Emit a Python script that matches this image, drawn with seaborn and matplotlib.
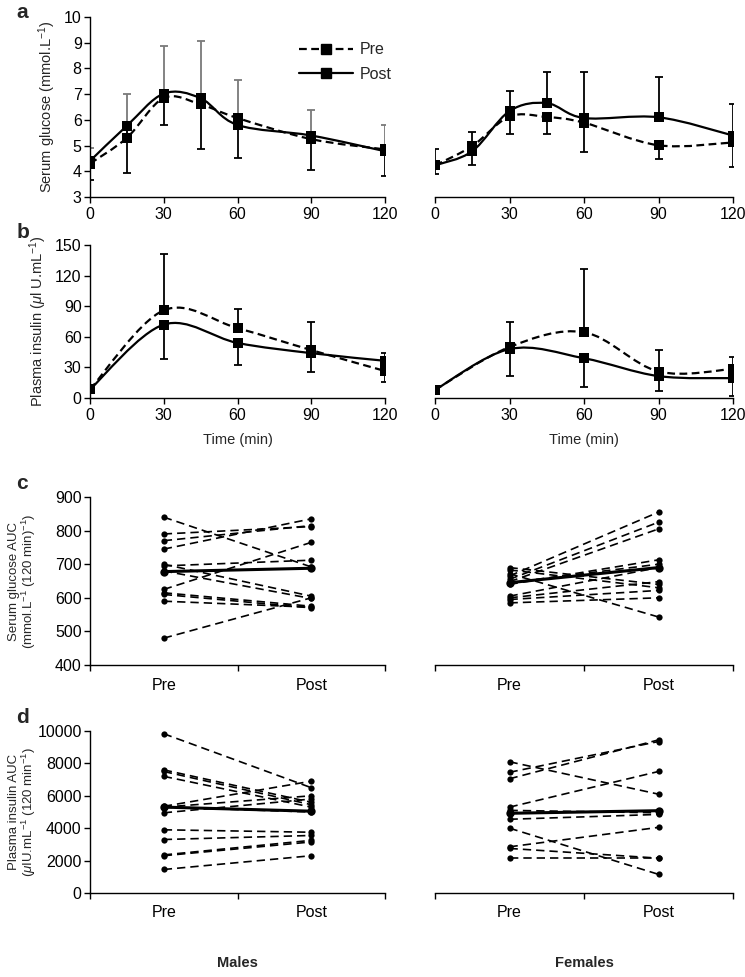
import matplotlib
matplotlib.use("Agg")
import matplotlib.pyplot as plt
import pandas as pd
import seaborn as sns
from matplotlib.path import Path
from matplotlib.patches import PathPatch
from matplotlib.lines import Line2D

# ---- panel a: serum glucose during the OGTT (mmol/L) ----
glu_time = [0, 15, 30, 45, 60, 90, 120]
glu_m_pre = [4.3, 5.3, 6.85, 6.6, 6.07, 5.25, 4.85]
glu_m_post = [4.4, 5.77, 7.02, 6.84, 5.8, 5.39, 4.78]
glu_m_pre_sd = [0.6, 1.7, 2.04, 2.45, 1.48, 1.14, 0.93]     # drawn upward
glu_m_post_sd = [0.74, 1.82, 1.22, 1.96, 1.3, 1.36, 0.95]   # drawn downward
glu_f_pre = [4.23, 4.98, 6.13, 6.11, 5.89, 5.01, 5.12]
glu_f_post = [4.23, 4.78, 6.34, 6.65, 6.07, 6.1, 5.39]
glu_f_pre_sd = [0.33, 0.72, 0.68, 0.66, 1.14, 0.53, 0.95]   # drawn downward
glu_f_post_sd = [0.64, 0.73, 0.8, 1.22, 1.8, 1.55, 1.21]    # drawn upward

# ---- panel b: plasma insulin (uU/mL) ----
ins_time = [0, 30, 60, 90, 120]
ins_m_pre = [8.5, 86, 68.5, 47, 26.5]
ins_m_post = [8.5, 72, 54, 44, 36.5]
ins_m_pre_sd = [1, 55, 18.5, 28, 18]
ins_m_post_sd = [1, 33.3, 21.7, 18, 21.1]
ins_f_pre = [8, 50, 64.5, 26, 28.5]
ins_f_post = [8, 48, 39, 21.5, 19.5]
ins_f_pre_sd = [1, 25, 62, 21, 11.5]
ins_f_post_sd = [1, 26, 28, 15, 18]

# ---- panel c: individual serum glucose AUC ----
gauc_m_pre = [840, 790, 770, 745, 700, 695, 680, 625, 615, 610, 590, 480]
gauc_m_post = [692, 812, 815, 835, 605, 712, 598, 765, 575, 570, 572, 600]
gauc_m_mean = [678, 688]
gauc_f_pre = [690, 683, 672, 665, 655, 648, 640, 645, 605, 595, 585, 600]
gauc_f_post = [640, 630, 543, 855, 825, 805, 713, 700, 690, 622, 600, 648]
gauc_f_mean = [645, 690]

# ---- panel d: individual plasma insulin AUC ----
iauc_m_pre = [9830, 7600, 7500, 7200, 5350, 5300, 4950, 5300, 3900, 3300, 2350, 2300, 1450]
iauc_m_post = [6500, 5600, 5450, 5300, 6900, 6000, 5800, 5000, 3750, 3550, 3250, 3150, 2300]
iauc_m_mean = [5300, 5050]
iauc_f_pre = [8100, 7450, 7050, 5300, 4950, 4550, 4000, 2850, 2750, 2150, 5100]
iauc_f_post = [6100, 9350, 9450, 7500, 5050, 4850, 1150, 4050, 2150, 2150, 4950]
iauc_f_mean = [4920, 5080]

phases = ["Pre", "Post"]

sns.set_theme(style="ticks")
plt.rcParams["font.family"] = ["Liberation Sans", "DejaVu Sans"]
plt.rcParams["mathtext.fontset"] = "custom"
plt.rcParams["mathtext.rm"] = "Liberation Sans"
plt.rcParams["mathtext.it"] = "Liberation Sans:italic"
plt.rcParams["axes.edgecolor"] = "black"
plt.rcParams["axes.linewidth"] = 1.0
plt.rcParams["xtick.color"] = "black"
plt.rcParams["ytick.color"] = "black"
FS = 11.5
LFS = 10.5


def smooth(ax, x, y, ls):
    # excel-like smoothed line as a cubic bezier path
    pts = list(zip(x, y))
    n = len(pts)
    verts = [pts[0]]
    codes = [Path.MOVETO]
    for i in range(n - 1):
        p0 = pts[max(i - 1, 0)]
        p1 = pts[i]
        p2 = pts[i + 1]
        p3 = pts[min(i + 2, n - 1)]
        c1 = (p1[0] + (p2[0] - p0[0]) / 6, p1[1] + (p2[1] - p0[1]) / 6)
        c2 = (p2[0] - (p3[0] - p1[0]) / 6, p2[1] - (p3[1] - p1[1]) / 6)
        verts += [c1, c2, p2]
        codes += [Path.CURVE4] * 3
    ax.add_patch(PathPatch(Path(verts, codes), fill=False, edgecolor="black",
                           lw=1.6, linestyle=ls, capstyle="butt", zorder=3))


def time_panel(ax, t, pre, post, pre_sd, post_sd, pre_up, up_col="black"):
    smooth(ax, t, pre, (0, (3.5, 2)))
    smooth(ax, t, post, "-")
    z = [0] * len(t)
    pre_err = [z, pre_sd] if pre_up else [pre_sd, z]
    post_err = [post_sd, z] if pre_up else [z, post_sd]
    ax.errorbar(t, pre, yerr=pre_err, fmt="none", ecolor=up_col if pre_up else "black",
                elinewidth=1.3, capsize=3, capthick=1.3, zorder=2)
    ax.errorbar(t, post, yerr=post_err, fmt="none", ecolor="black" if pre_up else up_col,
                elinewidth=1.3, capsize=3, capthick=1.3, zorder=2)
    sns.scatterplot(x=t, y=pre, marker="s", s=55, color="black", edgecolor="black",
                    linewidth=0, ax=ax, zorder=4)
    sns.scatterplot(x=t, y=post, marker="s", s=55, color="black", edgecolor="black",
                    linewidth=0, ax=ax, zorder=4)
    ax.set_xlim(0, 120)
    ax.set_xticks([0, 30, 60, 90, 120])
    ax.tick_params(direction="out", length=4, width=1, labelsize=FS)
    ax.tick_params(axis="y", pad=2)


def auc_panel(ax, pre, post, mean):
    df = pd.DataFrame({
        "subject": list(range(len(pre))) * 2,
        "phase": ["Pre"] * len(pre) + ["Post"] * len(post),
        "auc": pre + post,
    })
    sns.lineplot(data=df, x="phase", y="auc", units="subject", estimator=None,
                 color="black", linestyle=(0, (5, 3)), lw=1.2, marker="o",
                 markersize=4.5, markeredgewidth=0, ax=ax)
    sns.lineplot(x=phases, y=mean, color="black", lw=2.2, marker="o",
                 markersize=6, markeredgewidth=0, ax=ax, zorder=5)
    ax.set_xlim(-0.5, 1.5)
    ax.set_xticks([0, 1], phases)
    ax.set_xticks([-0.5, 0.5, 1.5], minor=True)
    ax.tick_params(axis="x", which="major", length=0, pad=9, labelsize=FS)
    ax.tick_params(axis="x", which="minor", direction="out", length=4, width=1)
    ax.tick_params(axis="y", direction="out", length=4, width=1, pad=2, labelsize=FS)
    ax.set_xlabel("")
    ax.set_ylabel("")


fig = plt.figure(figsize=(7.45, 9.77), dpi=100)
L, LW = 0.1208, 0.396
R, RW = 0.5839, 0.40
rows = [(0.7984, 0.1842), (0.5926, 0.1566), (0.3193, 0.172), (0.0860, 0.1658)]
axes = []
for b, h in rows:
    axes.append((fig.add_axes([L, b, LW, h]), fig.add_axes([R, b, RW, h])))

# a
al, ar = axes[0]
time_panel(al, glu_time, glu_m_pre, glu_m_post, glu_m_pre_sd, glu_m_post_sd, True, up_col="#7a7a7a")
time_panel(ar, glu_time, glu_f_pre, glu_f_post, glu_f_pre_sd, glu_f_post_sd, False)
for ax in (al, ar):
    ax.set_ylim(3, 10)
    ax.set_yticks(range(3, 11))
al.set_ylabel("Serum glucose (mmol.L$^{-1}$)", fontsize=LFS)
leg = [Line2D([], [], color="black", lw=1.6, ls=(0, (3.5, 2)), marker="s", ms=6.5),
       Line2D([], [], color="black", lw=1.6, ls="-", marker="s", ms=6.5)]
al.legend(leg, ["Pre", "Post"], loc="upper left", bbox_to_anchor=(0.66, 0.94),
          frameon=False, handlelength=3.4, handletextpad=0.4, labelspacing=0.6,
          fontsize=FS)

# b
bl, br = axes[1]
time_panel(bl, ins_time, ins_m_pre, ins_m_post, ins_m_pre_sd, ins_m_post_sd, True)
time_panel(br, ins_time, ins_f_pre, ins_f_post, ins_f_pre_sd, ins_f_post_sd, True)
for ax in (bl, br):
    ax.set_ylim(0, 150)
    ax.set_yticks(range(0, 151, 30))
    ax.set_xlabel("Time (min)", fontsize=LFS, labelpad=7)
bl.set_ylabel("Plasma insulin ($\\mu$l U.mL$^{-1}$)", fontsize=LFS)

# c
cl, cr = axes[2]
auc_panel(cl, gauc_m_pre, gauc_m_post, gauc_m_mean)
auc_panel(cr, gauc_f_pre, gauc_f_post, gauc_f_mean)
for ax in (cl, cr):
    ax.set_ylim(400, 900)
    ax.set_yticks(range(400, 901, 100))
cl.set_ylabel("Serum glucose AUC\n(mmol.L$^{-1}$ (120 min)$^{-1}$)", fontsize=9.5, linespacing=1.05)
cl.yaxis.set_label_coords(-0.175, 0.5)

# d
dl, dr = axes[3]
auc_panel(dl, iauc_m_pre, iauc_m_post, iauc_m_mean)
auc_panel(dr, iauc_f_pre, iauc_f_post, iauc_f_mean)
for ax in (dl, dr):
    ax.set_ylim(0, 10000)
    ax.set_yticks(range(0, 10001, 2000))
dl.set_ylabel("Plasma insulin AUC\n($\\mu$IU.mL$^{-1}$ (120 min$^{-1}$)", fontsize=9.5, linespacing=1.05)
dl.yaxis.set_label_coords(-0.175, 0.5)

for left, right in axes:
    sns.despine(ax=left)
    sns.despine(ax=right, left=True)
    right.tick_params(axis="y", left=False, labelleft=False)
    for ax in (left, right):
        ax.set_facecolor("none")
        for sp in ax.spines.values():
            sp.set_clip_on(False)

for lab, y in zip("abcd", [0.9877, 0.7625, 0.5056, 0.2651]):
    fig.text(0.022, y, lab, fontsize=15, fontweight="bold", va="center")

fig.text(L + LW / 2, 0.0143, "Males", fontsize=LFS, fontweight="bold", ha="center", va="center")
fig.text(R + RW / 2, 0.0143, "Females", fontsize=LFS, fontweight="bold", ha="center", va="center")

fig.savefig("out.png", dpi=100, facecolor="white")
